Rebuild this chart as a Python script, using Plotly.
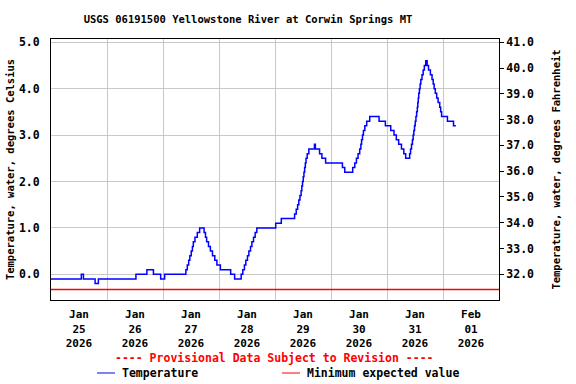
import plotly.graph_objects as go
import pandas as pd

# ---- data (hours after 2026-01-25 00:00, water temperature in deg C; step changes) ----
hours = [0, 13.0, 13.9, 18.9, 20.3, 36.4, 41.1, 43.9, 47.0, 48.7,
         57.8, 58.4, 59.0, 59.5, 60.1, 60.6, 61.0, 61.7, 62.7, 63.7,
         65.6, 66.2, 66.7, 67.5, 68.3, 69.2, 70.2, 71.1, 72.6, 74.4, 77.0, 78.7,
         81.5, 82.2, 82.9, 83.5, 84.2, 84.8, 85.5, 86.1, 86.8, 87.5, 88.2,
         96.3, 98.7, 104.4, 105.1, 105.7, 106.2, 106.7, 107.2, 107.5, 107.8,
         108.1, 108.4, 108.7, 109.0, 109.3, 109.8, 110.5, 112.9, 113.3,
         115.1, 116.1, 117.7, 124.9, 125.9,
         129.3, 130.2, 130.9, 131.6, 132.3, 132.8, 133.1, 133.5, 133.9, 134.5,
         135.3, 136.6, 140.6, 143.3, 145.6, 147.0, 148.0, 149.0, 150.2, 151.2,
         152.0, 153.7, 154.1, 154.5, 154.9, 155.2, 155.5, 155.8, 156.1, 156.4,
         156.7, 157.0, 157.2, 157.4, 157.6, 157.9, 158.2, 158.5, 159.0, 159.5,
         160.0, 160.6, 161.2, 161.8, 162.6, 163.3, 163.8, 164.2, 164.7, 165.3,
         165.9, 166.6, 167.0, 167.4, 169.9, 172.5, 173.5]
temp_c = [-0.1, 0.0, -0.1, -0.2, -0.1, 0.0, 0.1, 0.0, -0.1, 0.0,
          0.1, 0.2, 0.3, 0.4, 0.5, 0.6, 0.7, 0.8, 0.9, 1.0,
          0.9, 0.8, 0.7, 0.6, 0.5, 0.4, 0.3, 0.2, 0.1, 0.1, 0.0, -0.1,
          0.0, 0.1, 0.2, 0.3, 0.4, 0.5, 0.6, 0.7, 0.8, 0.9, 1.0,
          1.1, 1.2, 1.3, 1.4, 1.5, 1.6, 1.7, 1.8, 1.9, 2.0,
          2.1, 2.2, 2.3, 2.4, 2.5, 2.6, 2.7, 2.8, 2.7,
          2.6, 2.5, 2.4, 2.3, 2.2,
          2.3, 2.4, 2.5, 2.6, 2.7, 2.8, 2.9, 3.0, 3.1, 3.2,
          3.3, 3.4, 3.3, 3.2, 3.1, 3.0, 2.9, 2.8, 2.7, 2.6,
          2.5, 2.6, 2.7, 2.8, 2.9, 3.0, 3.1, 3.2, 3.3, 3.4,
          3.5, 3.6, 3.7, 3.8, 3.9, 4.0, 4.1, 4.2, 4.3, 4.4,
          4.5, 4.6, 4.5, 4.4, 4.3, 4.2, 4.1, 4.0, 3.9, 3.8,
          3.7, 3.6, 3.5, 3.4, 3.3, 3.2, 3.2]
min_expected_c = -0.33

start_time = "2026-01-25 00:00"
end_time = "2026-02-02 00:00"
c_range = [-0.554, 5.07]
c_ticks = [0, 1, 2, 3, 4, 5]

title_text = "USGS 06191500 Yellowstone River at Corwin Springs MT"
left_title = "Temperature, water, degrees Celsius"
right_title = "Temperature, water, degrees Fahrenheit"
provisional = "---- Provisional Data Subject to Revision ----"
legend_names = ["Temperature", "Minimum expected value"]

FONT = "DejaVu Sans Mono"
BLUE = "#0000ff"
RED = "#ff0000"

t0 = pd.Timestamp(start_time)
times = [t0 + pd.Timedelta(hours=h) for h in hours]
f_range = [c * 1.8 + 32 for c in c_range]

fig = go.Figure()
fig.add_trace(go.Scatter(x=times, y=temp_c, mode="lines",
                         line=dict(color=BLUE, width=1.5, shape="hv"),
                         name=legend_names[0], showlegend=False))
fig.add_trace(go.Scatter(x=[start_time, end_time], y=[min_expected_c, min_expected_c],
                         mode="lines", line=dict(color=RED, width=1.5),
                         name=legend_names[1], showlegend=False))
# invisible trace to attach the Fahrenheit axis
fig.add_trace(go.Scatter(x=[start_time], y=[None], yaxis="y2", mode="lines",
                         showlegend=False, hoverinfo="skip"))

fig.update_layout(
    width=576, height=384,
    margin=dict(l=51, r=77, t=39, b=84, autoexpand=False),
    paper_bgcolor="white", plot_bgcolor="white",
    font=dict(family=FONT, size=11.5, color="black", weight="bold"),
    title=dict(text=title_text, x=248 / 576, xanchor="center", xref="container",
               y=1 - 19 / 384, yanchor="middle", yref="container",
               font=dict(family=FONT, size=10.5, color="black", weight="bold")),
    xaxis=dict(type="date", range=[start_time, end_time], tick0=start_time,
               dtick=86400000, ticklabelmode="period", tickformat="%b<br>%d<br>%Y",
               tickfont=dict(size=11), automargin=False, ticklabelstandoff=4,
               showgrid=True, gridcolor="#c8c8c8", gridwidth=1,
               showline=True, linecolor="black", linewidth=1, mirror=True,
               ticks="", zeroline=False),
    yaxis=dict(range=c_range, tickvals=c_ticks, tickformat=".1f", automargin=False,
               showgrid=True, gridcolor="#c8c8c8", gridwidth=1,
               showline=True, linecolor="black", linewidth=1, mirror=True,
               ticks="", ticklabelstandoff=8, zeroline=False,
               title=dict(text=left_title, standoff=2, font=dict(size=10.5))),
    yaxis2=dict(overlaying="y", side="right", range=f_range, tick0=32, dtick=1,
                tickformat=".1f", showgrid=False, zeroline=False, automargin=False,
                showline=True, linecolor="black", linewidth=1,
                ticks="outside", ticklen=4, tickcolor="black",
                title=dict(text=right_title, standoff=19, font=dict(size=10.5))),
)

def px_x(px):
    return (px - 51) / 448

def px_y(py):
    return (300 - py) / 261

fig.add_annotation(text=provisional, xref="paper", yref="paper",
                   x=px_x(274), y=px_y(358), xanchor="center", yanchor="middle",
                   showarrow=False,
                   font=dict(family=FONT, size=11.5, color=RED, weight="bold"))
fig.add_shape(type="line", xref="paper", yref="paper",
              x0=px_x(97), x1=px_x(115), y0=px_y(373), y1=px_y(373),
              line=dict(color=BLUE, width=1))
fig.add_annotation(text=legend_names[0], xref="paper", yref="paper",
                   x=px_x(120), y=px_y(373), xanchor="left", yanchor="middle",
                   showarrow=False)
fig.add_shape(type="line", xref="paper", yref="paper",
              x0=px_x(282), x1=px_x(300), y0=px_y(373), y1=px_y(373),
              line=dict(color=RED, width=1))
fig.add_annotation(text=legend_names[1], xref="paper", yref="paper",
                   x=px_x(305), y=px_y(373), xanchor="left", yanchor="middle",
                   showarrow=False)

fig.write_html("out.html", config={"displayModeBar": False},
               post_script="document.body.style.margin='0';")
